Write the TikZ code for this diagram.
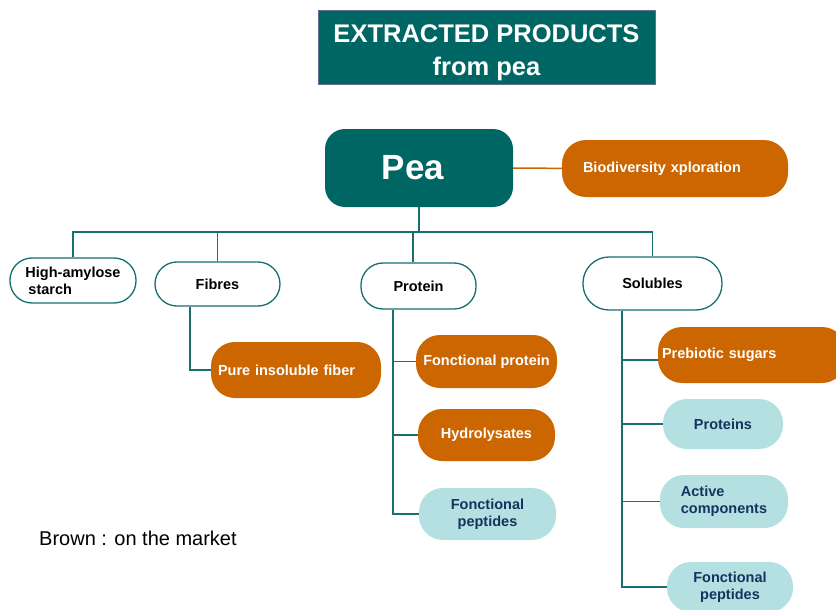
\documentclass[tikz,border=0pt]{standalone}
\usepackage{fontspec}
\setmainfont{Liberation Sans}
\usetikzlibrary{positioning}
\definecolor{peateal}{RGB}{0,102,100}
\definecolor{peaorange}{RGB}{204,102,0}
\definecolor{pealight}{RGB}{180,224,226}
\definecolor{peanavy}{RGB}{20,52,95}
\definecolor{pealine}{RGB}{22,112,112}
\tikzset{
  pkfont/.style={font=\bfseries\fontsize{14.5}{17}\selectfont},
  pkwhite/.style={pkfont, draw=pealine, line width=1.3pt, fill=white, text=black, rounded corners=22pt, align=center, inner sep=0pt},
  pkbrown/.style={pkfont, fill=peaorange, text=white, rounded corners=24pt, align=center, inner sep=0pt},
  pkblue/.style={pkfont, fill=pealight, text=peanavy, rounded corners=24pt, align=center, inner sep=0pt},
  pklink/.style={draw=pealine, line width=1.5pt},
  pkolink/.style={draw=peaorange, line width=1.5pt},
}

\begin{document}
\begin{tikzpicture}[x=1pt, y=-1pt]
  \clip (0,0) rectangle (836,610);
  \useasboundingbox (0,0) rectangle (836,610);

  % heading
  \node[fill=peateal, draw=peanavy!70, line width=0.8pt, text=white, minimum width=337pt, minimum height=74pt,
        align=center, font=\bfseries\fontsize{25.5}{33}\selectfont, inner sep=0pt] (title) at (486.5,47)
        {\rule{0pt}{29pt}EXTRACTED PRODUCTS\\from pea};

  % root and side node
  \node[fill=peateal, text=white, rounded corners=20pt, minimum width=188pt, minimum height=78pt,
        font=\bfseries\fontsize{35}{40}\selectfont, inner sep=0pt] (pea) at (419,168) {Pea\kern12pt};
  \node[pkbrown, minimum height=57pt, text width=184pt, inner xsep=21pt, align=left] (bio) at (675,168.5) {Biodiversity xploration};

  % first level
  \node[pkwhite, minimum width=126pt, minimum height=45pt, align=left] (amylose) at (73,280.5) {High-amylose\\\hspace{3pt}starch};
  \node[pkwhite, minimum width=125pt, minimum height=44pt] (fibres) at (217.5,284) {Fibres};
  \node[pkwhite, minimum width=115pt, minimum height=46pt] (protein) at (418.5,286) {Protein};
  \node[pkwhite, minimum width=139pt, minimum height=53pt, rounded corners=26pt] (solubles) at (652.5,283.5) {Solubles};

  % fibres branch
  \node[pkbrown, minimum height=56pt, text width=156pt, inner xsep=7pt, align=left] (pure) at (296,370) {Pure insoluble fiber};

  % protein branch
  \node[pkbrown, minimum width=141pt, minimum height=53pt] (fprot) at (486.5,361.5) {Fonctional protein};
  \node[pkbrown, minimum width=137pt, minimum height=52pt] (hydro) at (486.5,435) {Hydrolysates};
  \node[pkblue, minimum width=137pt, minimum height=52pt] (fpep) at (487.5,514) {Fonctional\\peptides};

  % solubles branch
  \node[pkbrown, minimum height=56pt, text width=180pt, inner xsep=4pt, align=left] (preb) at (752,355) {Prebiotic sugars};
  \node[pkblue, minimum width=120pt, minimum height=50pt] (sprot) at (723,424) {Proteins};
  \node[pkblue, minimum width=128pt, minimum height=53pt, align=left] (active) at (724,501.5) {Active\\components};
  \node[pkblue, minimum width=126pt, minimum height=50pt] (spep) at (730,587) {Fonctional\\peptides};

  % legend
  \node[anchor=west, font=\fontsize{20}{23}\selectfont, inner sep=0pt] (legend) at (39,538) {Brown : on the market};

  % connectors
  \coordinate (bus) at (419,232);
  \coordinate (ptrunk) at ([xshift=-25.5pt]protein.south);
  \coordinate (strunk) at ([xshift=-30.5pt]solubles.south);

  \draw[pkolink] (pea) -- (bio);
  \draw[pklink] (pea.south) -- (bus);
  \draw[pklink] (amylose.north) -- (amylose.north |- bus) -| (solubles.north);
  \draw[pklink] (fibres.north) -- (fibres.north |- bus);
  \draw[pklink] ([xshift=-5.5pt]protein.north) -- ([xshift=-5.5pt]protein.north |- bus);

  \draw[pklink] ([xshift=-27.5pt]fibres.south) |- (pure.west);

  \draw[pklink] (ptrunk) |- (fpep.west);
  \draw[pklink] (fprot.west) -- (fprot.west -| ptrunk);
  \draw[pklink] (hydro.west) -- (hydro.west -| ptrunk);

  \draw[pklink] (strunk) |- (spep.west);
  \draw[pklink] ([yshift=-5pt]preb.west) -- ([yshift=-5pt]preb.west -| strunk);
  \draw[pklink] (sprot.west) -- (sprot.west -| strunk);
  \draw[pklink] (active.west) -- (active.west -| strunk);
\end{tikzpicture}
\end{document}
